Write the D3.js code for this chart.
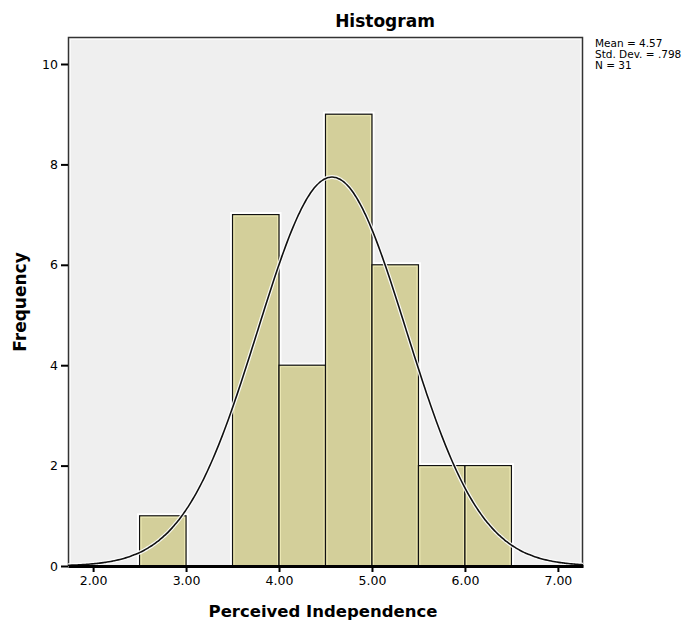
<!DOCTYPE html>
<html>
<head>
<meta charset="utf-8">
<script src="https://cdn.jsdelivr.net/npm/d3@7"></script>
<style>
  body { margin: 0; background: #fff; }
  text { font-family: "DejaVu Sans", Verdana, sans-serif; fill: #000; }
</style>
</head>
<body>
<svg id="chart" width="698" height="621"></svg>
<script>
// histogram bins (lower edge, width 0.5) and counts
var binStarts = [2.5, 3.5, 4.0, 4.5, 5.0, 5.5, 6.0]
var binCounts = [1, 7, 4, 9, 6, 2, 2]
var binWidth = 0.5
var xTicks = [2, 3, 4, 5, 6, 7]
var yTicks = [0, 2, 4, 6, 8, 10]
var statsLines = ["Mean = 4.57", "Std. Dev. = .798", "N = 31"]
var mean = 4.57, sd = 0.798, n = 31

var frame = { left: 68, top: 37, right: 583, bottom: 566 }

var svg = d3.select("#chart")

var x = d3.scaleLinear().domain([1.73, 7.27]).range([frame.left, frame.right])
var y = d3.scaleLinear().domain([0, 10]).range([frame.bottom, 64])

// plot background + frame
svg.append("rect")
    .attr("x", frame.left + 0.5).attr("y", frame.top + 0.5)
    .attr("width", frame.right - frame.left - 1)
    .attr("height", frame.bottom - frame.top)
    .attr("fill", "#fafafa")
    .attr("stroke", "#333").attr("stroke-width", 1.5)
svg.append("rect")
    .attr("x", frame.left + 3).attr("y", frame.top + 3)
    .attr("width", frame.right - frame.left - 6)
    .attr("height", frame.bottom - frame.top - 3)
    .attr("fill", "#efefef")

// bars
var bars = svg.append("g")
binStarts.forEach(function(s, i) {
    var x0 = x(s), x1 = x(s + binWidth), yTop = y(binCounts[i])
    bars.append("rect")
        .attr("x", x0 - 1.5).attr("y", yTop - 1.5)
        .attr("width", x1 - x0 + 3).attr("height", frame.bottom - yTop + 1.5)
        .attr("fill", "none").attr("stroke", "#ffffff").attr("stroke-width", 2)
})
binStarts.forEach(function(s, i) {
    var x0 = x(s), x1 = x(s + binWidth), yTop = y(binCounts[i])
    bars.append("rect")
        .attr("x", x0).attr("y", yTop)
        .attr("width", x1 - x0).attr("height", frame.bottom - yTop)
        .attr("fill", "#d3cf9a")
        .attr("stroke", "#111").attr("stroke-width", 1.2)
    bars.append("rect")
        .attr("x", x0 + 1.5).attr("y", yTop + 1.5)
        .attr("width", x1 - x0 - 3).attr("height", frame.bottom - yTop - 1.5)
        .attr("fill", "none")
        .attr("stroke", "#ece8b4").attr("stroke-width", 1)
})

// normal curve
var xs = d3.range(1.73, 7.2701, 0.02)
var curve = d3.line()
    .x(function(v) { return x(v) })
    .y(function(v) {
        var z = (v - mean) / sd
        return y(n * binWidth * Math.exp(-0.5 * z * z) / (sd * Math.sqrt(2 * Math.PI)))
    })
    .curve(d3.curveBasis)
svg.append("path").datum(xs).attr("d", curve)
    .attr("fill", "none").attr("stroke", "#fff").attr("stroke-width", 4)
    .attr("stroke-opacity", 0.9)
svg.append("path").datum(xs).attr("d", curve)
    .attr("fill", "none").attr("stroke", "#111").attr("stroke-width", 1.6)

// axes
var xAxis = svg.append("g")
    .attr("transform", "translate(0," + frame.bottom + ")")
    .call(d3.axisBottom(x).tickValues(xTicks).tickSize(6).tickPadding(4)
        .tickFormat(d3.format(".2f")).tickSizeOuter(0))
xAxis.select(".domain").attr("stroke", "#000").attr("stroke-width", 3)
xAxis.selectAll(".tick line").attr("stroke", "#000").attr("stroke-width", 2)
xAxis.selectAll("text").attr("font-size", 12.5).attr("font-family", "DejaVu Sans")

var yAxis = svg.append("g")
    .attr("transform", "translate(" + frame.left + ",0)")
    .call(d3.axisLeft(y).tickValues(yTicks).tickSize(7).tickPadding(3).tickSizeOuter(0))
yAxis.select(".domain").remove()
yAxis.selectAll(".tick line").attr("stroke", "#000").attr("stroke-width", 2)
yAxis.selectAll("text").attr("font-size", 12.5).attr("font-family", "DejaVu Sans")

// titles
svg.append("text").attr("x", 385).attr("y", 27)
    .attr("text-anchor", "middle").attr("font-size", 17).attr("font-weight", "bold")
    .text("Histogram")
svg.append("text").attr("x", 323).attr("y", 617)
    .attr("text-anchor", "middle").attr("font-size", 16.5).attr("font-weight", "bold")
    .text("Perceived Independence")
svg.append("text")
    .attr("transform", "translate(26," + 302 + ") rotate(-90)")
    .attr("text-anchor", "middle").attr("font-size", 17).attr("font-weight", "bold")
    .text("Frequency")

// stats block
svg.append("g").selectAll("text").data(statsLines).enter().append("text")
    .attr("x", 595).attr("y", function(d, i) { return 47 + i * 10.8 })
    .attr("font-size", 10.5)
    .text(function(d) { return d })
</script>
</body>
</html>
